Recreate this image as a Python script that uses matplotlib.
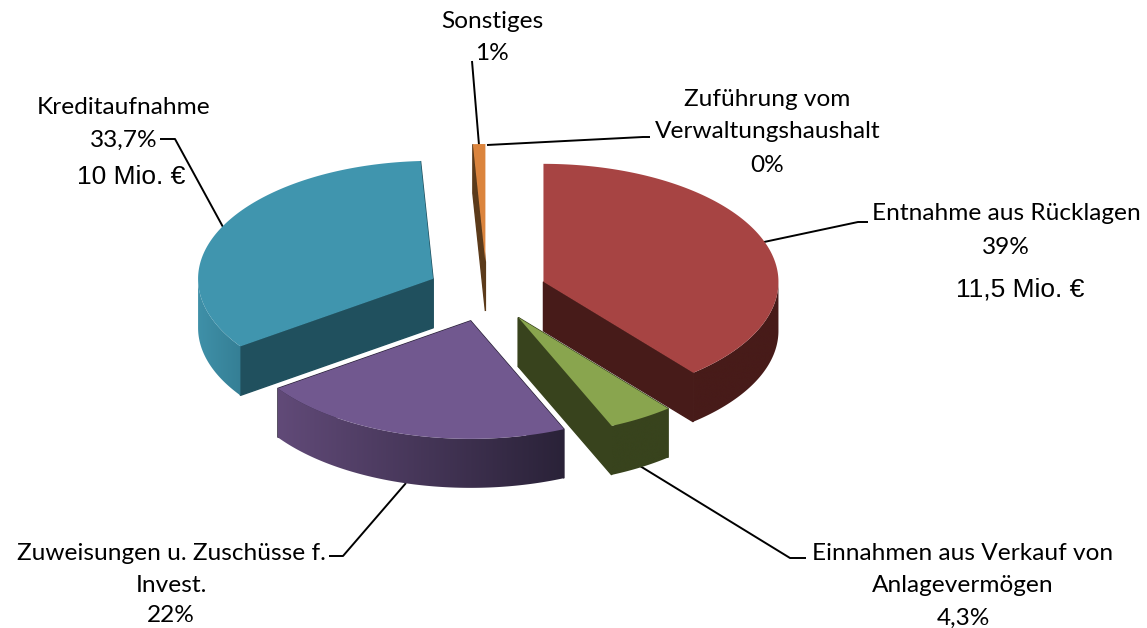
import numpy as np
import matplotlib
matplotlib.use("Agg")
import matplotlib.pyplot as plt
from matplotlib.colors import to_rgb
from matplotlib.patches import Polygon

# Data (share in percent, clockwise from 12 o'clock)
categories = ["Entnahme aus Rücklagen", "Einnahmen aus Verkauf von Anlagevermögen",
              "Zuweisungen u. Zuschüsse f. Invest.", "Kreditaufnahme",
              "Sonstiges", "Zuführung vom Verwaltungshaushalt"]
values = [39.0, 4.5, 21.8, 33.85, 0.85, 0.0]

top_colors = ["#A74443", "#89A54E", "#71588F", "#4095AE", "#DB843D", "#DB843D"]
cut_colors = ["#471B19", "#38431D", "#2A2238", "#20505E", "#5B3A1A", "#5B3A1A"]
wall_left = ["#471B19", "#38431D", "#614A78", "#3F90A8", "#5B3A1A", "#5B3A1A"]
wall_right = ["#471B19", "#38431D", "#2A2238", "#357F95", "#5B3A1A", "#5B3A1A"]

# pie geometry, in pixels of the figure
CX, CY = 487, 292
RX, RY = 235, 118
DEPTH = 49
EXPLODE = 60
DRAW_ORDER = [4, 3, 0, 2, 1]

fig = plt.figure(figsize=(11.47, 6.28), dpi=100)
ax = fig.add_axes([0, 0, 1, 1])
ax.axis("off")


def ellipse_xy(angle, ox, oy):
    return ox + RX * np.sin(angle), oy - RY * np.cos(angle)


def draw_wall(fx, fy, i, z):
    # rim of the slice as one clipped gradient, so no seams show
    c0, c1 = np.array(to_rgb(wall_left[i])), np.array(to_rgb(wall_right[i]))
    t = np.linspace(0, 1, 256)[None, :, None]
    grad = c0[None, None, :] + (c1 - c0)[None, None, :] * t
    im = ax.imshow(grad, extent=[fx.min(), fx.max(), fy.max() + DEPTH, fy.min()],
                   aspect="auto", zorder=z, interpolation="bilinear")
    outline = np.c_[np.r_[fx, fx[::-1]], np.r_[fy, fy[::-1] + DEPTH]]
    im.set_clip_path(Polygon(outline, closed=True, transform=ax.transData))


def draw_slice(start, end, i, z):
    mid = (start + end) / 2
    ox = CX + EXPLODE * np.sin(mid)
    oy = CY - EXPLODE * 0.5 * np.cos(mid)
    angles = np.linspace(start, end, 200)
    x, y = ellipse_xy(angles, ox, oy)

    # cut faces, the thin edge closes the hairline gap to wall and top
    for a in (start, end):
        if abs(np.sin(a)) < 1e-6:
            continue
        ex, ey = ellipse_xy(a, ox, oy)
        ax.fill([ox, ex, ex, ox], [oy, ey, ey + DEPTH, oy + DEPTH],
                facecolor=cut_colors[i], edgecolor=cut_colors[i], lw=1.0, zorder=z)

    # outer wall, only the front half of the rim shows
    front = np.cos(angles) <= 0
    if front.any():
        draw_wall(x[front], y[front], i, z + 0.2)

    # top face
    ax.fill(np.r_[ox, x], np.r_[oy, y], color=top_colors[i], lw=0, zorder=z + 0.5)


edges = np.radians(np.cumsum([0] + values) / sum(values) * 360)
for z, i in enumerate(DRAW_ORDER):
    draw_slice(edges[i], edges[i + 1], i, z + 2)

ax.set_xlim(0, 1147)
ax.set_ylim(628, 0)

# leader lines
leaders = [
    ([160, 175, 223], [139, 139, 227]),
    ([764, 858, 868], [242, 222, 222]),
    ([640, 790, 806], [466, 558, 558]),
    ([406, 343, 329], [483, 556, 556]),
    ([472, 479], [61, 145]),
    ([487, 643, 650], [145, 137, 137]),
]
for lx, ly in leaders:
    ax.plot(lx, ly, color="black", lw=1.4, zorder=1, solid_capstyle="butt")

# labels
label_font = ["Lato", "DejaVu Sans"]
labels = [
    ("Sonstiges", 492, 22), ("1%", 492, 54),
    ("Zuführung vom", 767, 99), ("Verwaltungshaushalt", 768, 132), ("0%", 767, 165),
    ("Kreditaufnahme", 124, 107), ("33,7%", 124, 140),
    ("Entnahme aus Rücklagen", 1006, 214), ("39%", 1006, 247),
    ("Einnahmen aus Verkauf von", 963, 553), ("Anlagevermögen", 963, 586), ("4,3%", 963, 618),
    ("Zuweisungen u. Zuschüsse f.", 171, 553), ("Invest.", 171, 586), ("22%", 171, 616),
]
for text, lx, ly in labels:
    ax.text(lx, ly, text, ha="center", va="center", fontsize=17.6, family=label_font, color="black")

ax.text(131, 177, "10 Mio. €", ha="center", va="center", fontsize=19, family="Liberation Sans")
ax.text(1020, 290, "11,5 Mio. €", ha="center", va="center", fontsize=19, family="Liberation Sans")

fig.savefig("out.png", dpi=100)
